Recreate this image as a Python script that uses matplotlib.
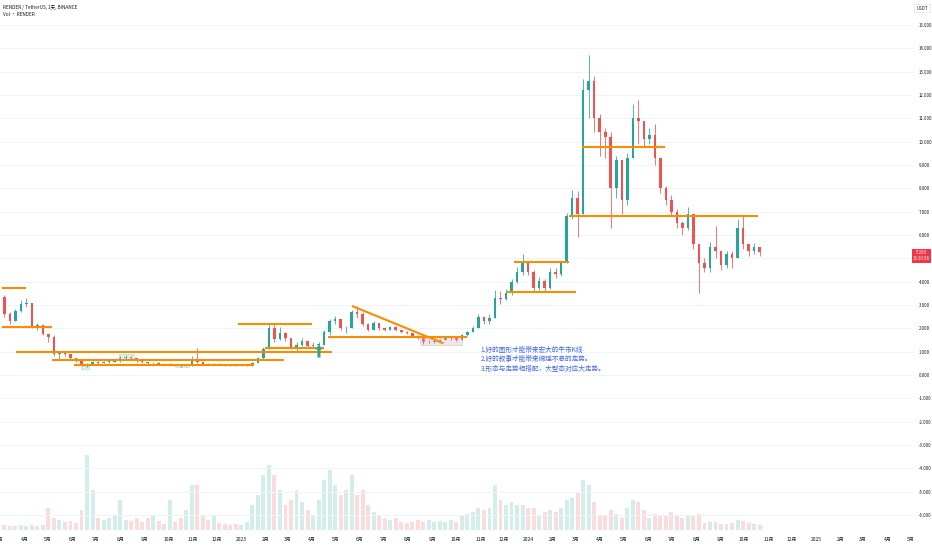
import numpy as np
import pandas as pd
import matplotlib
matplotlib.use("Agg")
import matplotlib.pyplot as plt
import matplotlib.dates as mdates
from matplotlib.patches import Rectangle

# weekly candles, first week starts 2022-03-03
week_start = "2022-03-03"
first_open = 3.35
closes = [2.6, 2.3, 2.75, 3.05, 3.1, 2.1, 2.15, 1.75, 1.65, 0.9,
          0.95, 0.9, 0.72, 0.6, 0.45, 0.45, 0.55, 0.52, 0.56, 0.58,
          0.6, 0.72, 0.78, 0.72, 0.6, 0.55, 0.5, 0.52, 0.46, 0.45,
          0.46, 0.42, 0.4, 0.42, 0.7, 0.55, 0.48, 0.45, 0.47, 0.45,
          0.44, 0.41, 0.4, 0.41, 0.42, 0.5, 0.72, 1.1, 2.0, 1.55,
          1.8, 1.6, 1.2, 1.3, 1.45, 1.25, 1.3, 1.3, 1.85, 2.3,
          2.4, 2.0, 2.0, 2.7, 2.6, 2.2, 1.95, 2.25, 2.0, 1.95,
          2.05, 1.95, 1.85, 1.82, 1.68, 1.6, 1.4, 1.42, 1.45, 1.5,
          1.57, 1.6, 1.52, 1.7, 1.85, 2.0, 2.5, 2.3, 2.45, 3.3,
          3.25, 3.5, 4.0, 4.4, 4.85, 4.4, 3.75, 4.05, 3.75, 4.4,
          4.35, 4.8, 6.8, 7.6, 6.9, 12.2, 12.6, 11.0, 10.4, 10.2,
          8.0, 9.2, 7.5, 9.3, 11.0, 10.9, 10.1, 10.3, 9.3, 8.0,
          7.5, 7.0, 6.5, 6.3, 6.9, 5.6, 4.8, 4.6, 5.5, 5.3,
          4.7, 5.2, 5.0, 6.3, 5.6, 5.3, 5.5, 5.29]
highs = [3.45, 2.7, 2.85, 3.2, 3.3, 3.1, 2.25, 2.2, 1.75, 1.7,
         1.0, 1.02, 0.9, 0.75, 0.62, 0.5, 0.62, 0.6, 0.62, 0.64,
         0.66, 0.8, 0.85, 0.82, 0.74, 0.62, 0.58, 0.56, 0.54, 0.5,
         0.5, 0.48, 0.45, 0.46, 0.8, 1.15, 0.6, 0.5, 0.52, 0.5,
         0.48, 0.45, 0.43, 0.44, 0.45, 0.55, 0.78, 1.2, 2.2, 2.25,
         2.05, 1.85, 1.6, 1.4, 1.58, 1.45, 1.4, 1.4, 1.95, 2.4,
         2.55, 2.4, 2.1, 2.8, 2.95, 2.7, 2.25, 2.3, 2.25, 2.05,
         2.1, 2.08, 1.95, 1.9, 1.82, 1.7, 1.6, 1.5, 1.52, 1.56,
         1.62, 1.66, 1.62, 1.75, 1.9, 2.08, 2.6, 2.55, 2.6, 3.65,
         3.6, 3.7, 4.1, 4.65, 5.2, 4.9, 4.5, 4.2, 4.1, 4.6,
         4.6, 4.9, 6.95, 7.95, 7.9, 12.7, 13.7, 12.8, 11.2, 10.6,
         10.4, 9.4, 9.2, 9.5, 11.6, 11.8, 10.9, 10.6, 10.75, 9.3,
         8.1, 7.7, 7.1, 6.6, 7.2, 6.9, 5.6, 5.0, 5.7, 6.4,
         5.3, 5.3, 5.3, 6.7, 6.8, 5.6, 5.65, 5.5]
lows = [2.5, 2.2, 2.3, 2.7, 2.9, 2.0, 1.95, 1.7, 1.42, 0.8,
        0.68, 0.82, 0.7, 0.55, 0.4, 0.33, 0.45, 0.48, 0.5, 0.52,
        0.54, 0.58, 0.7, 0.68, 0.56, 0.5, 0.46, 0.46, 0.43, 0.42,
        0.42, 0.38, 0.36, 0.38, 0.4, 0.5, 0.45, 0.42, 0.43, 0.42,
        0.4, 0.38, 0.37, 0.38, 0.39, 0.4, 0.5, 0.7, 1.1, 1.4,
        1.5, 1.45, 1.1, 1.05, 1.25, 1.18, 1.2, 1.12, 1.3, 1.7,
        2.2, 1.95, 1.8, 2.0, 2.45, 2.1, 1.9, 1.95, 1.95, 1.9,
        1.92, 1.88, 1.78, 1.75, 1.62, 1.55, 1.35, 1.36, 1.38, 1.4,
        1.48, 1.52, 1.47, 1.5, 1.68, 1.85, 2.0, 2.18, 2.2, 2.45,
        3.05, 3.2, 3.45, 3.95, 4.3, 4.3, 3.55, 3.65, 3.55, 3.7,
        4.15, 4.25, 4.8, 6.7, 5.9, 6.9, 11.0, 10.4, 9.4, 9.3,
        6.3, 7.6, 6.9, 7.3, 9.3, 9.9, 9.8, 9.9, 9.0, 7.8,
        7.3, 6.8, 6.3, 6.0, 6.2, 5.4, 3.5, 4.4, 4.4, 5.0,
        4.5, 4.6, 4.6, 5.0, 5.4, 5.1, 5.2, 5.1]
# volume (millions, rough reading of bar heights)
volumes = [0.5, 0.4, 0.4, 0.5, 0.4, 0.5, 0.4, 0.5, 2.2, 1.2,
           1.0, 0.8, 0.9, 0.7, 2.0, 7.5, 4.0, 1.2, 1.0, 1.2,
           1.5, 3.0, 1.0, 0.9, 1.2, 0.8, 1.2, 1.4, 0.9, 0.6,
           3.0, 0.8, 1.2, 2.0, 4.5, 4.5, 1.5, 1.0, 1.5, 0.7,
           0.6, 0.5, 0.6, 0.5, 0.8, 2.5, 3.5, 5.5, 6.5, 5.5,
           4.0, 2.5, 3.0, 4.0, 2.8, 2.0, 1.5, 3.0, 5.0, 6.0,
           4.5, 3.5, 4.0, 5.5, 3.5, 4.0, 2.5, 1.8, 1.5, 1.2,
           1.0, 1.2, 0.8, 0.7, 0.8, 1.0, 0.8, 1.0, 0.8, 0.9,
           0.8, 1.0, 0.8, 1.4, 1.6, 1.8, 2.2, 2.0, 2.2, 4.5,
           3.0, 2.5, 2.8, 2.5, 2.5, 2.2, 2.2, 1.5, 1.8, 2.0,
           1.8, 2.2, 3.0, 3.2, 3.8, 5.0, 4.5, 2.8, 1.5, 1.4,
           2.0, 1.6, 1.2, 2.2, 3.0, 2.8, 2.0, 1.2, 1.6, 1.4,
           1.5, 1.8, 1.4, 1.2, 1.5, 1.4, 1.6, 0.7, 0.8, 0.8,
           0.6, 0.6, 0.7, 1.0, 0.9, 0.7, 0.6, 0.5]

# orange drawings: start, end, price at start, price at end
lines = [
    ("2022-03-03", "2022-04-03", 3.74, 3.74),
    ("2022-03-03", "2022-05-06", 2.04, 2.04),
    ("2022-03-21", "2023-04-27", 1.00, 1.00),
    ("2022-05-06", "2023-02-25", 0.63, 0.63),
    ("2022-06-03", "2023-01-17", 0.42, 0.42),
    ("2022-12-28", "2023-04-01", 2.17, 2.17),
    ("2023-01-31", "2023-04-16", 1.14, 1.14),
    ("2023-04-22", "2023-10-15", 1.62, 1.62),
    ("2023-05-22", "2023-09-15", 2.96, 1.36),
    ("2023-12-14", "2024-02-21", 4.86, 4.86),
    ("2023-12-05", "2024-03-01", 3.57, 3.57),
    ("2024-02-21", "2024-10-19", 6.83, 6.83),
    ("2024-03-09", "2024-06-23", 9.79, 9.79),
]
# small boxes: start, end, low, high
boxes = [
    ("2023-08-16", "2023-10-09", 1.29, 1.63, "#f8bbd0"),
    ("2022-07-30", "2022-08-18", 0.67, 0.90, "#b2dfdb"),
    ("2022-06-12", "2022-06-22", 0.24, 0.40, "#b2dfdb"),
    ("2022-10-10", "2022-10-27", 0.33, 0.46, "#b2dfdb"),
]
arrow_date = "2023-04-10"
notes = ["1.好的图形才能带来宏大的牛市K线",
         "2.好的叙事才能带来绵延不息的走势。",
         "3.形态与走势相搭配，大型态对应大走势。"]
price_ticks = list(range(15, -7, -1))

plt.rcParams['font.family'] = ['Noto Sans CJK SC', 'DejaVu Sans']

UP = '#26a69a'
DOWN = '#ef5350'
ORANGE = '#fb8c00'
TXT = '#131722'

dates = pd.date_range(week_start, periods=len(closes), freq='7D') + pd.Timedelta(days=3.5)
x = mdates.date2num(dates)
opens = np.array([first_open] + closes[:-1])
closes = np.array(closes)
up = closes >= opens
colors = np.where(up, UP, DOWN)

fig = plt.figure(figsize=(9.32, 5.5), dpi=100)
ax = fig.add_axes([0, 20 / 550, 912 / 932, 530 / 550])
ax2 = ax.twinx()
ax.set_zorder(ax2.get_zorder() + 1)
ax.patch.set_visible(False)

# volume
ax2.bar(x, volumes, width=5.0, color=colors, alpha=0.2, linewidth=0)
ax2.set_ylim(0, 53)
ax2.set_yticks([])
for s in ax2.spines.values():
    s.set_visible(False)

# candles
ax.vlines(x, lows, highs, colors=colors, linewidth=0.55)
body = np.maximum(np.abs(closes - opens), 0.03)
ax.bar(x, body, bottom=np.minimum(opens, closes), width=3.2, color=colors, linewidth=0)

for s, e, p0, p1 in lines:
    ax.plot(mdates.date2num(pd.to_datetime([s, e])), [p0, p1], color=ORANGE, lw=1.5,
            solid_capstyle='butt')

for s, e, lo, hi, fc in boxes:
    d0, d1 = mdates.date2num(pd.to_datetime([s, e]))
    ax.add_patch(Rectangle((d0, lo), d1 - d0, hi - lo, facecolor=fc, alpha=0.45,
                           edgecolor='#80cbc4', lw=0.6, zorder=1))

ad = mdates.date2num(pd.Timestamp(arrow_date))
ax.annotate('', xy=(ad, 1.3), xytext=(ad, 0.75),
            arrowprops=dict(facecolor=UP, edgecolor='none', width=2.2,
                            headwidth=5, headlength=3.5, shrink=0))

ax.text(mdates.date2num(pd.Timestamp("2023-11-01")), 1.25, "\n".join(notes),
        fontsize=4.8, color='#3d63f0', va='top', ha='left', linespacing=1.25)

# axes
ax.set_xlim(mdates.date2num(pd.Timestamp("2022-03-03")), mdates.date2num(pd.Timestamp("2025-05-02")))
ax.set_ylim(-6.64, 16.07)
ax.set_yticks(price_ticks)
# the 5.000 label sits under the red last-price tag
ax.set_yticklabels(["" if v == 5 else "%.3f" % v for v in price_ticks])
ax.grid(axis='y', color='#f0f3fa', lw=0.7)
ax.set_axisbelow(True)
ax.tick_params(axis='y', left=False, right=False, labelleft=False, labelright=True,
               labelsize=3.1, pad=1.2, colors=TXT)

months = pd.date_range("2022-03-01", "2025-05-01", freq='MS')
ax.set_xticks(mdates.date2num(months))
ax.set_xticklabels([str(m.year) if m.month == 1 else "%d月" % m.month for m in months])
ax.tick_params(axis='x', length=0, labelsize=3.6, pad=5, colors=TXT)
for s in ax.spines.values():
    s.set_visible(False)

fig.text(3 / 932, 1 - 7 / 550, "RENDER / TetherUS, 1天, BINANCE", fontsize=3.4,
         color=TXT, va='center', ha='left')
fig.text(3 / 932, 1 - 15 / 550, "Vol · RENDER", fontsize=3.4, color=TXT,
         va='center', ha='left')
fig.text(922 / 932, 1 - 8 / 550, "USDT", fontsize=3.2, color=TXT, ha='center', va='center',
         bbox=dict(boxstyle='square,pad=0.4', fc='white', ec='#e0e3eb', lw=0.5))

ax.annotate("%.3f\n16:20:58" % closes[-1], xy=(1.0105, closes[-1]),
            xycoords=('axes fraction', 'data'), xytext=(0, -3), textcoords='offset points',
            fontsize=3.1, color='white', ha='center', va='center', linespacing=1.3,
            bbox=dict(boxstyle='square,pad=0.3', fc='#f23645', ec='none'),
            annotation_clip=False)

fig.savefig("out.png", dpi=100)
